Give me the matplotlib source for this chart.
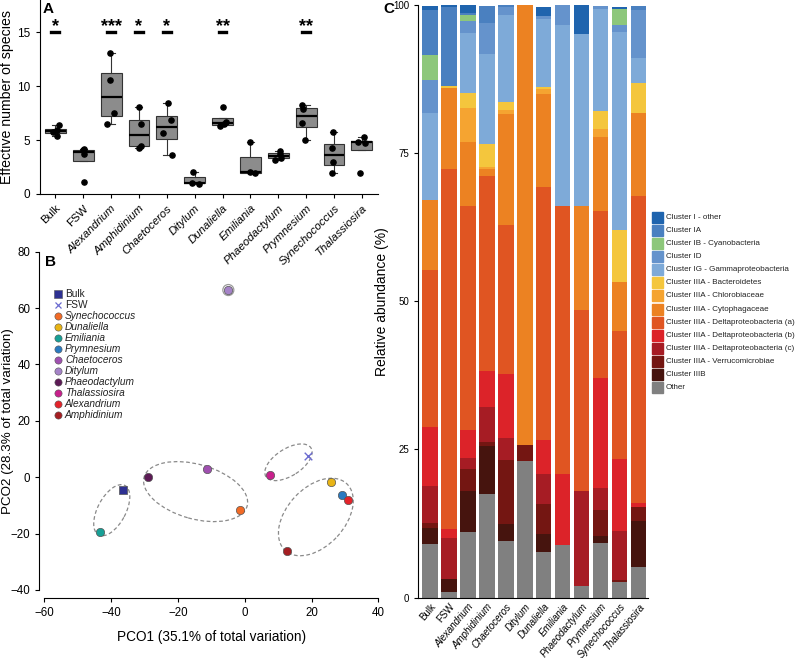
import numpy as np
import matplotlib
matplotlib.use("Agg")
import matplotlib.pyplot as plt
from matplotlib.patches import Ellipse, Rectangle
from matplotlib.lines import Line2D
from matplotlib.transforms import ScaledTranslation

plt.rcParams['font.family'] = ['Liberation Sans', 'DejaVu Sans']

W, H = 798, 658

# ---- data ----
samples = ["Bulk", "FSW", "Alexandrium", "Amphidinium", "Chaetoceros", "Ditylum",
           "Dunaliella", "Emiliania", "Phaeodactylum", "Prymnesium", "Synechococcus",
           "Thalassiosira"]
upright = ["Bulk", "FSW"]

# panel A: effective number of species per replicate
eff_bulk = [5.4, 5.75, 5.9, 6.4]
eff_fsw = [1.15, 3.7, 4.05, 4.15]
eff_alexandrium = [6.48, 7.47, 10.56, 13.08]
eff_amphidinium = [4.3, 4.45, 6.5, 8.05]
eff_chaetoceros = [3.61, 5.62, 6.85, 8.46]
eff_ditylum = [0.95, 1.0, 2.07]
eff_dunaliella = [6.35, 6.45, 6.7, 8.1]
eff_emiliania = [1.95, 2.0, 4.85]
eff_phaeodactylum = [3.2, 3.35, 3.7, 4.0]
eff_prymnesium = [5.0, 6.6, 7.93, 8.24]
eff_synechococcus = [1.97, 2.99, 4.23, 5.71]
eff_thalassiosira = [1.91, 4.75, 4.85, 5.25]
stars = ["*", "", "***", "*", "*", "", "**", "", "", "**", "", ""]

# panel B: PCO ordination
pco_labels = ["Bulk", "FSW", "Synechococcus", "Dunaliella", "Emiliania", "Prymnesium",
              "Chaetoceros", "Ditylum", "Phaeodactylum", "Thalassiosira", "Alexandrium",
              "Amphidinium"]
pco1 = [-36.4, 19.0, -1.5, 25.7, -43.2, 29.1, -11.2, -4.9, -29.1, 7.5, 30.9, 12.7]
pco2 = [-4.4, 7.4, -11.7, -1.6, -19.3, -6.2, 3.0, 66.4, 0.1, 0.7, -7.9, -26.2]

# panel C: relative abundance (%), bottom to top
clusters = ["Other", "Cluster IIIB", "Cluster IIIA - Verrucomicrobiae",
            "Cluster IIIA - Deltaproteobacteria (c)", "Cluster IIIA - Deltaproteobacteria (b)",
            "Cluster IIIA - Deltaproteobacteria (a)", "Cluster IIIA - Cytophagaceae",
            "Cluster IIIA - Chlorobiaceae", "Cluster IIIA - Bacteroidetes",
            "Cluster IG - Gammaproteobacteria", "Cluster ID", "Cluster IB - Cyanobacteria",
            "Cluster IA", "Cluster I - other"]
other = [9.1, 0.9, 11.0, 17.4, 9.5, 23.0, 7.7, 8.8, 2.0, 9.2, 2.7, 5.1]
c_IIIB = [2.7, 2.3, 7.0, 8.1, 2.9, 0, 3.1, 0, 0, 1.1, 0, 7.8]
verruco = [0.7, 0, 3.7, 0.7, 10.8, 2.7, 5.0, 0, 0, 4.4, 0.3, 2.3]
delta_c = [6.4, 6.9, 1.8, 5.9, 3.7, 0, 5.0, 0, 16.0, 3.8, 8.3, 0]
delta_b = [9.8, 1.5, 4.7, 6.1, 10.8, 0, 5.7, 12.0, 0, 18.6, 12.1, 0.7]
delta_a = [26.6, 60.8, 37.8, 32.9, 25.1, 0, 42.7, 45.2, 30.6, 28.1, 21.5, 51.8]
cyto = [11.8, 13.6, 10.9, 1.3, 18.8, 74.3, 15.8, 0, 17.4, 12.6, 8.3, 14.0]
chloro = [0, 0, 5.8, 0.3, 0.7, 0, 0.8, 0, 0, 1.2, 0, 0]
bactero = [0, 0.3, 2.5, 3.8, 1.4, 0, 0.3, 0, 0, 3.1, 8.9, 5.2]
gamma_IG = [14.7, 0, 10.0, 15.3, 14.6, 0, 11.6, 30.7, 29.1, 17.3, 33.3, 4.1]
c_ID = [5.5, 0, 2.1, 5.1, 1.4, 0, 0.4, 3.4, 0, 0.4, 1.2, 8.1]
cyano_IB = [4.2, 0, 1.0, 0, 0, 0, 0, 0, 0, 0, 2.7, 0]
c_IA = [7.7, 13.4, 0.4, 3.0, 0.3, 0, 0, 0, 0, 0, 0, 0.8]
c_I_other = [0.7, 0.3, 1.3, 0, 0, 0, 1.5, 0, 4.9, 0, 0.4, 0]

# ---- styles ----
effective = [eff_bulk, eff_fsw, eff_alexandrium, eff_amphidinium, eff_chaetoceros,
             eff_ditylum, eff_dunaliella, eff_emiliania, eff_phaeodactylum,
             eff_prymnesium, eff_synechococcus, eff_thalassiosira]
jitter = [[0.06, -0.1, 0.05, 0.12], [0.02, 0.02, 0.0, 0.03], [-0.13, 0.11, -0.04, -0.04],
          [0.0, 0.06, 0.08, 0.0], [0.18, -0.12, 0.14, 0.06], [0.16, -0.08, -0.06],
          [-0.1, 0.05, 0.12, 0.0], [0.18, 0.0, -0.02], [-0.12, 0.1, 0.05, 0.08],
          [-0.04, -0.16, -0.1, -0.16], [-0.08, -0.02, -0.08, -0.02], [-0.08, 0.12, -0.12, 0.06]]
pco_colors = ["#2e3192", "#6b6bd0", "#f26b26", "#e8b415", "#17a096", "#2a7ac0",
              "#a050b0", "#a583c8", "#5c1a55", "#c8208c", "#e4232a", "#a51e22"]
pco_markers = ["s", "x"] + ["o"] * 10
cluster_colors = ["#808080", "#46140e", "#741612", "#a61c24", "#dc2329", "#e05522",
                  "#ec8222", "#f5a431", "#f4c63d", "#7eaad8", "#6593cc", "#8dc77b",
                  "#4a80c0", "#1f64ae"]
# hand-drawn group ellipses: centre (data), semi-axes (px), angle (deg)
ellipses = [(-39.8, -11.7, 28, 14, 62), (-14.7, -5.1, 53.5, 27.3, -15.7),
            (13.1, 5.3, 26.7, 13.5, 32.6), (21.3, -14.1, 45.4, 29.0, 47.4)]


def rect(l, t, r, b):
    return [l / W, 1 - b / H, (r - l) / W, (b - t) / H]


def style_ticks(ax, labels, size, rot):
    ax.set_xticks(range(len(labels)))
    ax.set_xticklabels(labels, rotation=rot, ha="right", rotation_mode="anchor",
                       fontsize=size)
    for t in ax.get_xticklabels():
        if t.get_text() not in upright:
            t.set_style("italic")


fig = plt.figure(figsize=(W / 100, H / 100), dpi=100)

# ---- panel B (drawn first so panel A labels sit on top) ----
axB = fig.add_axes(rect(44.3, 251.7, 378.3, 590))
axB.patch.set_alpha(0)
for e in ellipses:
    tr = fig.dpi_scale_trans + ScaledTranslation(e[0], e[1], axB.transData)
    axB.add_patch(Ellipse((0, 0), 2 * e[2] / 100, 2 * e[3] / 100, angle=e[4],
                          transform=tr, fill=False, ec="#8a8a8a", lw=0.9, ls=(0, (3, 2))))
for x, y, c, m in zip(pco1, pco2, pco_colors, pco_markers):
    if m == "x":
        axB.scatter(x, y, marker="x", s=30, color=c, linewidths=1.0, zorder=3)
    else:
        axB.scatter(x, y, marker=m, s=36, color=c, edgecolors="#555555",
                    linewidths=0.5, zorder=3)
# faint halo around the isolated Ditylum point
ring = fig.dpi_scale_trans + ScaledTranslation(pco1[7], pco2[7], axB.transData)
axB.add_patch(Ellipse((0, 0), 0.11, 0.11, transform=ring, fill=False,
                      ec="#9a9a9a", lw=0.9))
axB.set_xlim(-60, 40)
axB.set_ylim(-40, 80)
axB.set_xticks(range(-60, 41, 20))
axB.set_yticks(range(-40, 81, 20))
axB.spines["left"].set_position(("outward", 3.6))
axB.spines["bottom"].set_position(("outward", 5.5))
for s in ["top", "right"]:
    axB.spines[s].set_visible(False)
axB.tick_params(labelsize=8.3, length=3)
axB.set_xlabel("PCO1 (35.1% of total variation)", fontsize=9.8, labelpad=8)
axB.set_ylabel("PCO2 (28.3% of total variation)", fontsize=9.6)
axB.yaxis.set_label_coords(-0.09, 0.5)
fig.text(45 / W, 1 - 262 / H, "B", fontsize=11, fontweight="bold", va="center")
for k, (lab, c, m) in enumerate(zip(pco_labels, pco_colors, pco_markers)):
    y = 1 - (294.3 + k * 10.97) / H
    if m == "x":
        fig.add_artist(Line2D([58.3 / W], [y], marker="x", color=c, ms=5, mew=0.9,
                              transform=fig.transFigure, linestyle="none"))
    else:
        fig.add_artist(Line2D([58.3 / W], [y], marker=m, color=c, ms=5.2, mec="#555555",
                              mew=0.4, transform=fig.transFigure, linestyle="none"))
    fig.text(65 / W, y, lab, fontsize=7.3, va="center", color="#222222",
             style="normal" if lab in upright else "italic")

# ---- panel A ----
axA = fig.add_axes(rect(39.5, 0, 378, 194))
axA.boxplot(effective, positions=range(12), widths=0.75, patch_artist=True,
            showfliers=False, whis=1.5, capwidths=0.25,
            boxprops=dict(facecolor="#8c8c8c", edgecolor="#333333", linewidth=0.8),
            medianprops=dict(color="black", linewidth=1.6),
            whiskerprops=dict(color="#333333", linewidth=0.8),
            capprops=dict(color="#333333", linewidth=0.8))
for i, vals in enumerate(effective):
    axA.scatter(np.array(jitter[i]) + i, vals, s=14, color="black", zorder=3)
    if stars[i]:
        axA.plot([i - 0.14, i + 0.14], [15, 15], color="black", lw=2.4)
        axA.text(i, 15.55, stars[i], ha="center", va="center", fontsize=13,
                 fontweight="bold")
axA.set_xlim(-0.57, 11.58)
axA.set_ylim(0, 18)
axA.set_yticks([0, 5, 10, 15])
axA.tick_params(axis="y", labelsize=8.5, length=3)
axA.tick_params(axis="x", length=3)
style_ticks(axA, samples, 8.2, 45)
axA.set_ylabel("Effective number of species", fontsize=10.2, labelpad=2)
for s in ["top", "right"]:
    axA.spines[s].set_visible(False)
fig.text(43 / W, 1 - 9 / H, "A", fontsize=11, fontweight="bold", va="center")

# ---- panel C ----
axC = fig.add_axes(rect(418, 5, 648, 597.5))
series = [other, c_IIIB, verruco, delta_c, delta_b, delta_a, cyto, chloro, bactero,
          gamma_IG, c_ID, cyano_IB, c_IA, c_I_other]
bottom = np.zeros(len(samples))
for vals, col in zip(series, cluster_colors):
    axC.bar(range(len(samples)), vals, bottom=bottom, width=0.82, color=col,
            edgecolor="none")
    bottom += np.array(vals)
axC.set_xlim(-0.63, 11.5)
axC.set_ylim(0, 100)
axC.set_yticks([0, 25, 50, 75, 100])
axC.tick_params(axis="y", labelsize=7, length=3)
axC.tick_params(axis="x", length=0, pad=3)
style_ticks(axC, samples, 7.0, 50)
axC.set_ylabel("Relative abundance (%)", fontsize=10, labelpad=3)
for s in ["top", "right"]:
    axC.spines[s].set_visible(False)
fig.text(383 / W, 1 - 9 / H, "C", fontsize=11, fontweight="bold", va="center")
for k in range(len(clusters)):
    idx = len(clusters) - 1 - k
    yc = 217.3 + k * 13.1
    fig.add_artist(Rectangle((652 / W, 1 - (yc + 5.5) / H), 11 / W, 11 / H,
                             transform=fig.transFigure, color=cluster_colors[idx]))
    fig.text(666 / W, 1 - yc / H, clusters[idx], fontsize=5.8, va="center",
             color="#222222")

fig.savefig("out.png", dpi=100)
